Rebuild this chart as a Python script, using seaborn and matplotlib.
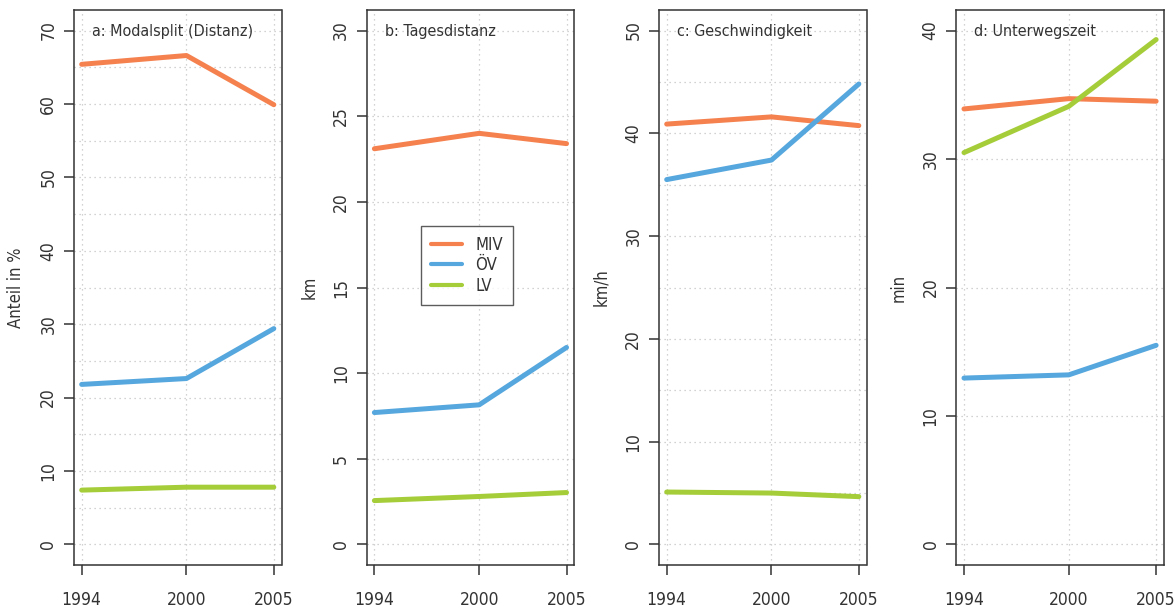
import pandas as pd
import matplotlib
matplotlib.use("Agg")
import matplotlib.pyplot as plt
from matplotlib.ticker import MultipleLocator
import seaborn as sns

# Data
years = [1994, 2000, 2005]
modes = ["MIV", "ÖV", "LV"]

modalsplit_miv = [65.4, 66.6, 59.9]
modalsplit_oev = [21.8, 22.6, 29.4]
modalsplit_lv = [7.4, 7.8, 7.8]

distanz_miv = [23.1, 24.0, 23.4]
distanz_oev = [7.7, 8.15, 11.5]
distanz_lv = [2.56, 2.8, 3.03]

tempo_miv = [40.9, 41.6, 40.75]
tempo_oev = [35.5, 37.4, 44.8]
tempo_lv = [5.1, 5.0, 4.65]

zeit_miv = [33.9, 34.7, 34.5]
zeit_oev = [12.95, 13.2, 15.5]
zeit_lv = [30.5, 34.1, 39.3]

palette = {"MIV": "#F5814F", "ÖV": "#55A7DE", "LV": "#A5CD39"}

sns.set_style("white")
plt.rcParams['font.family'] = ['DejaVu Sans']
plt.rcParams['font.stretch'] = 'condensed'
plt.rcParams['text.color'] = '#333333'


def make_df(miv, oev, lv):
    return pd.DataFrame({
        "Jahr": years * 3,
        "Wert": miv + oev + lv,
        "Modus": ["MIV"] * 3 + ["ÖV"] * 3 + ["LV"] * 3,
    })


panels = [
    ("a: Modalsplit (Distanz)", "Anteil in %", make_df(modalsplit_miv, modalsplit_oev, modalsplit_lv), 70, 10, 5, 74),
    ("b: Tagesdistanz", "km", make_df(distanz_miv, distanz_oev, distanz_lv), 30, 5, 5, 366.7),
    ("c: Geschwindigkeit", "km/h", make_df(tempo_miv, tempo_oev, tempo_lv), 50, 10, 5, 659),
    ("d: Unterwegszeit", "min", make_df(zeit_miv, zeit_oev, zeit_lv), 40, 10, 10, 956.3),
]

W, H = 1175, 608
fig = plt.figure(figsize=(W / 100, H / 100), dpi=100)

for i, (title, ylab, df, ymax, major, grid_step, left_px) in enumerate(panels):
    ax = fig.add_axes([left_px / W, (H - 565) / H, 207.5 / W, 555 / H])
    sns.lineplot(data=df, x="Jahr", y="Wert", hue="Modus", hue_order=modes,
                 palette=palette, linewidth=3.6, ax=ax, legend=(i == 1),
                 solid_capstyle="round", zorder=3)
    pad_x = (years[-1] - years[0]) * 0.04
    ax.set_xlim(years[0] - pad_x, years[-1] + pad_x)
    ax.set_ylim(-ymax * 0.04, ymax * 1.04)
    ax.set_xticks(years)
    ax.yaxis.set_major_locator(MultipleLocator(major))
    ax.yaxis.set_minor_locator(MultipleLocator(grid_step))
    ax.set_yticks(range(0, ymax + 1, major))
    ax.grid(True, which="both", axis="y", linestyle=(0, (1, 3)), color="#c4c4c4", linewidth=0.9, zorder=0)
    ax.grid(True, which="major", axis="x", linestyle=(0, (1, 3)), color="#c4c4c4", linewidth=0.9, zorder=0)
    ax.tick_params(axis="both", which="major", direction="out", length=7, width=1.1,
                   color="#333333", labelsize=12.5, labelcolor="#333333", left=True, bottom=True)
    ax.tick_params(axis="y", which="major", pad=5)
    ax.tick_params(axis="x", which="major", pad=12)
    ax.tick_params(axis="both", which="minor", length=0)
    for lab in ax.get_yticklabels():
        lab.set_rotation(90)
        lab.set_va("center")
    for sp in ax.spines.values():
        sp.set_color("#333333")
        sp.set_linewidth(1.1)
    ax.set_xlabel("")
    ax.set_ylabel(ylab, fontsize=12, color="#333333", labelpad=10)
    ax.text(0.087, 0.962, title, transform=ax.transAxes, fontsize=11.5,
            ha="left", va="center", color="#333333")
    if i == 1:
        leg = ax.legend(loc="center", bbox_to_anchor=(0.483, 0.54), fontsize=12,
                        frameon=True, fancybox=False, handlelength=1.9, labelspacing=0.15,
                        borderpad=0.6, handletextpad=0.8)
        leg.get_frame().set_edgecolor("#333333")
        leg.get_frame().set_linewidth(1.0)
        for line in leg.get_lines():
            line.set_linewidth(3.0)

fig.savefig("out.png", dpi=100)
